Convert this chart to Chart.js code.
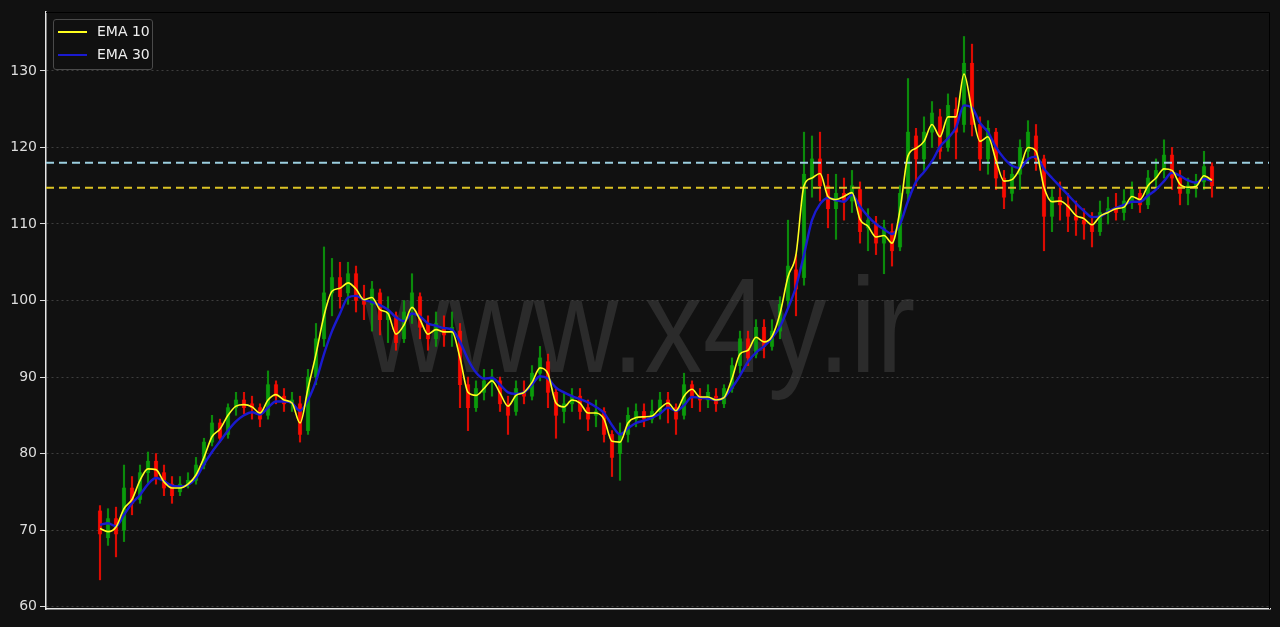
<!DOCTYPE html>
<html lang="en">
<head>
  <meta charset="UTF-8" />
  <title>EMA 10 / EMA 30</title>
  <script src="https://cdn.jsdelivr.net/npm/chart.js"></script>
  <style>
body {
  margin: 0;
  background: #111111;
}

.wrap {
  position: relative;
  width: 1280px;
  height: 627px;
  overflow: hidden;
}

.watermark {
  position: absolute;
  left: 0;
  top: 273px;
  width: 1280px;
  text-align: center;
  font-family: 'Liberation Sans', Arial, sans-serif;
  font-size: 117px;
  line-height: 117px;
  color: #2b2b2b;
  white-space: nowrap;
  transform: scaleY(1.15);
  transform-origin: 50% 99px;
}

canvas {
  position: absolute;
  left: 0;
  top: 0;
}

.leyenda {
  position: absolute;
  left: 53px;
  top: 19px;
  width: 100px;
  height: 51px;
  box-sizing: border-box;
  border: 1px solid #4a4a4a;
  border-radius: 3px;
  background: rgba(17,17,17,0.85);
  font-family: 'DejaVu Sans', sans-serif;
  font-size: 14px;
  color: #eeeeee;
}

.leyenda .linea {
  position: absolute;
  left: 4px;
  width: 29px;
  height: 2px;
}

.leyenda .texto {
  position: absolute;
  left: 43px;
  line-height: 16px;
}
  </style>
</head>
<body>
  <div class="wrap">
    <div class="watermark">www.x4y.ir</div>
    <canvas id="grafica" width="1280" height="627"></canvas>
    <div class="leyenda">
      <div class="linea" style="top:11px; background:#ffff1e;"></div>
      <div class="texto" style="top:3px;">EMA 10</div>
      <div class="linea" style="top:34px; background:#1a1ad0;"></div>
      <div class="texto" style="top:26px;">EMA 30</div>
    </div>
  </div>

  <script>
    // velas (una cada ~8 px)
    const opens = [
      72.5, 69.0, 71.5, 70.0, 75.5, 74.0, 77.5, 79.0, 77.5, 76.0,
      75.0, 76.0, 76.5, 78.5, 81.5, 84.0, 82.5, 86.0, 87.0, 86.5,
      86.0, 85.0, 89.0, 87.5, 86.5, 86.5, 83.0, 90.0, 95.0, 101.0,
      103.0, 101.0, 103.5, 100.0, 99.5, 101.0, 97.5, 98.0, 95.0, 99.0,
      100.5, 97.0, 95.0, 96.5, 96.0, 96.0, 89.0, 86.0, 88.0, 89.5,
      89.5, 86.5, 85.5, 88.0, 87.5, 90.5, 92.0, 88.0, 85.5, 86.5,
      87.5, 86.0, 85.0, 85.5, 82.5, 80.0, 82.5, 84.5, 85.5, 84.5,
      85.5, 87.0, 86.0, 85.0, 89.0, 87.5, 87.0, 87.5, 86.5, 88.5,
      91.5, 95.0, 93.0, 96.5, 94.0, 96.0, 100.0, 104.0, 103.0, 116.0,
      118.5, 115.0, 112.0, 114.0, 113.0, 114.5, 109.5, 110.0, 107.5, 109.0,
      107.0, 114.0, 121.5, 118.5, 122.0, 124.0, 120.0, 125.0, 123.0, 131.0,
      123.0, 118.5, 122.0, 116.0, 114.0, 116.5, 119.5, 121.5, 118.5, 111.0,
      113.5, 112.5, 111.0, 110.5, 110.0, 109.0, 111.5, 112.0, 111.5, 113.0,
      114.0, 112.5, 116.0, 117.0, 119.0, 116.0, 114.0, 115.0, 115.5, 117.5
    ];
    const closes = [
      69.5, 71.5, 69.5, 75.5, 73.5, 77.5, 79.0, 77.0, 75.5, 74.5,
      76.0, 76.5, 78.5, 81.5, 84.0, 82.0, 86.0, 87.0, 86.0, 86.0,
      84.5, 89.0, 87.5, 86.5, 87.0, 82.5, 90.0, 95.0, 101.0, 103.0,
      100.5, 103.5, 100.0, 99.5, 101.5, 97.5, 98.5, 94.5, 98.5, 101.0,
      96.5, 95.0, 97.0, 95.5, 96.5, 89.0, 86.0, 88.5, 89.5, 90.0,
      86.5, 85.0, 88.5, 87.5, 90.5, 92.5, 88.0, 85.0, 86.5, 87.5,
      85.5, 84.5, 85.5, 82.5, 79.5, 82.5, 85.0, 85.5, 84.5, 85.5,
      87.0, 86.0, 84.5, 89.0, 87.5, 87.0, 88.0, 86.5, 88.5, 91.5,
      95.0, 92.5, 96.5, 94.0, 96.0, 99.5, 104.5, 101.5, 116.5, 118.5,
      115.0, 112.0, 114.0, 113.0, 115.0, 109.0, 110.5, 107.5, 109.5, 106.5,
      114.0, 122.0, 118.5, 122.0, 124.5, 119.5, 125.5, 122.0, 131.0, 123.0,
      118.5, 122.5, 116.0, 113.5, 116.5, 120.0, 122.0, 118.5, 111.0, 113.5,
      112.5, 111.0, 110.5, 110.0, 109.0, 111.5, 112.0, 111.5, 113.0, 114.5,
      112.5, 116.0, 117.0, 119.0, 116.0, 114.0, 115.0, 115.5, 117.5, 115.0
    ];
    const highs = [
      73.2, 72.8, 73.0, 78.5, 77.0, 78.5, 80.2, 80.0, 78.5, 77.0,
      77.0, 77.5, 79.5, 82.0, 85.0, 84.5, 86.5, 88.0, 88.0, 87.5,
      86.5, 90.8, 89.5, 88.5, 88.0, 87.5, 91.0, 97.0, 107.0, 105.5,
      105.0, 105.0, 104.5, 102.0, 102.5, 101.5, 100.5, 98.5, 100.0, 103.5,
      101.0, 98.0, 98.5, 98.0, 98.5, 97.0, 90.0, 89.5, 91.0, 91.0,
      90.0, 87.5, 89.5, 89.5, 91.5, 94.0, 93.0, 88.5, 88.0, 88.5,
      88.5, 87.0, 87.0, 86.0, 83.0, 84.0, 86.0, 86.5, 86.5, 87.0,
      88.0, 88.0, 86.5, 90.5, 89.5, 88.5, 89.0, 88.5, 89.0, 92.5,
      96.0, 96.0, 97.5, 97.5, 97.5, 100.5, 110.5, 106.0, 122.0, 121.5,
      122.0, 116.5, 116.5, 116.0, 117.0, 115.5, 112.0, 111.0, 110.5, 110.0,
      115.0, 129.0, 122.5, 124.0, 126.0, 125.0, 127.0, 126.5, 134.5, 133.5,
      124.0, 123.5, 122.5, 117.0, 118.0, 121.0, 123.5, 123.0, 119.0, 114.5,
      115.5, 114.0, 113.0, 112.0, 111.5, 113.0, 113.5, 114.0, 114.5, 115.5,
      114.5, 117.0, 118.5, 121.0, 120.0, 117.0, 116.0, 116.5, 119.5, 118.0
    ];
    const lows = [
      63.5, 68.0, 66.5, 68.5, 72.0, 73.5, 76.0, 76.0, 74.5, 73.5,
      74.5, 75.5, 76.0, 78.0, 81.0, 81.5, 82.0, 85.0, 85.2, 84.5,
      83.5, 84.5, 86.5, 85.5, 85.5, 81.5, 82.5, 89.0, 94.0, 98.0,
      99.0, 99.5, 98.5, 97.5, 96.0, 95.5, 94.5, 93.5, 94.5, 97.0,
      95.0, 93.5, 94.0, 94.0, 94.0, 86.0, 83.0, 85.5, 87.0, 87.5,
      85.5, 82.5, 85.0, 86.5, 87.0, 89.5, 86.0, 82.0, 84.0, 85.5,
      84.5, 83.0, 83.5, 81.5, 77.0, 76.5, 81.5, 83.5, 83.5, 84.0,
      84.5, 84.0, 82.5, 84.5, 86.0, 85.5, 86.0, 85.5, 86.0, 88.0,
      90.5, 91.5, 92.5, 92.5, 93.5, 95.0, 99.0, 98.0, 102.0, 113.5,
      113.0, 109.5, 108.0, 110.5, 111.5, 107.5, 106.5, 106.0, 103.5, 104.5,
      106.5, 113.0, 115.0, 117.0, 120.0, 118.5, 119.5, 118.5, 122.0, 121.5,
      117.0, 116.5, 114.5, 112.0, 113.0, 114.5, 118.0, 117.0, 106.5, 109.0,
      110.5, 109.0, 108.5, 108.0, 107.0, 108.5, 110.0, 110.5, 110.5, 112.0,
      111.5, 112.0, 114.5, 116.0, 114.5, 112.5, 112.5, 113.5, 114.5, 113.5
    ];

    // medias moviles
    const ema10 = [
      70.2, 69.8, 70.4, 72.8, 74.0, 76.5, 78.0, 77.9, 76.3, 75.5,
      75.5, 76.0, 77.2, 79.5, 82.2, 83.2, 85.0, 86.2, 86.4, 86.1,
      85.3, 87.0, 87.7, 87.0, 86.6, 84.0, 88.5, 93.0, 98.0, 101.2,
      101.6, 102.3, 101.5, 100.1, 100.4, 98.8, 98.3, 95.6, 96.8, 99.1,
      97.5, 95.6, 96.2, 95.9, 95.9, 92.5, 88.0, 87.6, 88.5, 89.5,
      87.9, 86.2, 87.6, 88.0, 89.3, 91.2, 90.4, 86.6, 86.1, 87.0,
      86.6, 85.3, 85.3, 84.5, 81.6, 81.5, 84.0, 84.7, 84.8, 84.9,
      85.9, 86.6, 85.6, 87.5, 88.4, 87.4, 87.4, 87.0, 87.3, 89.8,
      93.0, 93.5, 95.2, 94.6, 95.3, 98.3, 103.1, 106.0, 115.0, 116.0,
      116.6, 113.6, 113.2, 113.6, 114.1, 110.6, 109.7, 108.3, 108.5, 107.5,
      111.8, 118.9, 119.9, 120.8, 123.0, 121.4, 124.0, 124.0, 129.6, 124.8,
      120.8, 121.4, 118.3, 115.6, 115.8, 117.3, 120.0, 119.5, 114.8, 112.9,
      113.0, 112.3, 111.1, 110.7, 109.9, 111.0, 111.5, 112.0, 112.2, 113.6,
      113.2, 115.0, 116.0, 117.2, 117.0, 115.2, 114.8, 114.9, 116.3, 115.7
    ];
    const ema30 = [
      70.7, 70.9, 70.5, 72.0, 73.5, 74.6, 76.0, 76.8, 76.4, 75.8,
      75.7, 75.9, 76.8, 78.6, 80.2, 81.6, 83.0, 84.2, 85.0, 85.4,
      85.1, 86.0, 86.8, 86.8, 86.6, 85.6, 87.0, 89.5, 93.0, 96.0,
      98.3, 100.4, 100.6, 100.1, 99.8, 99.4, 98.8, 97.8, 97.3, 98.3,
      97.9, 97.0, 96.7, 96.4, 96.2, 94.6, 92.3, 90.6, 89.8, 89.9,
      89.0, 88.0, 87.8, 88.0, 89.0, 90.1, 89.8, 88.6, 88.0, 87.5,
      87.1, 86.7, 86.1, 85.3, 83.7, 82.5, 83.3, 84.0, 84.3, 84.7,
      85.2, 86.0, 85.6, 86.3, 87.4, 87.3, 87.2, 87.0, 87.3, 88.6,
      90.2, 92.0, 93.2, 94.0, 95.1, 96.6, 99.0, 101.8, 106.0, 110.5,
      112.6, 113.4, 113.1, 112.9, 113.8, 112.3, 111.0, 110.0, 109.3, 108.7,
      110.0, 113.0, 115.5, 116.8, 118.2, 120.1, 121.2, 122.6, 125.5, 125.2,
      123.2, 122.0, 120.0, 118.6, 117.6, 117.3, 118.5, 118.8, 117.2, 116.0,
      114.9, 113.8, 112.7, 111.7, 110.9, 111.0, 111.6, 112.1, 112.5, 112.9,
      112.9, 113.7, 114.5, 115.6, 116.7, 116.3, 115.7, 115.4, 115.9, 115.6
    ];

    // niveles horizontales
    const nivelAlto = 118.0;
    const nivelBajo = 114.75;
    const yTicks = [60, 70, 80, 90, 100, 110, 120, 130];

    const xMin = -6.75, xMax = 146.25;
    const UP = 'rgba(10,160,10,0.85)';
    const DOWN = 'rgba(255,10,0,0.85)';
    const idx = closes.map((_, i) => i);
    const colorVela = c => closes[c.dataIndex] >= opens[c.dataIndex] ? UP : DOWN;

    const bordes = {
      id: 'bordes',
      afterDraw(chart) {
        const { ctx, chartArea: a } = chart;
        ctx.save();
        ctx.strokeStyle = '#000000';
        ctx.lineWidth = 1;
        ctx.beginPath();
        ctx.moveTo(a.left, a.top + 0.5);
        ctx.lineTo(a.right - 0.5, a.top + 0.5);
        ctx.lineTo(a.right - 0.5, a.bottom);
        ctx.stroke();
        ctx.restore();
      }
    };

    new Chart(document.getElementById('grafica'), {
      type: 'bar',
      data: {
        datasets: [
          {
            type: 'bar',
            data: idx.map(i => ({ x: i, y: [lows[i], highs[i]] })),
            backgroundColor: colorVela,
            barThickness: 1.5,
            grouped: false,
            order: 6
          },
          {
            type: 'bar',
            data: idx.map(i => ({ x: i, y: [opens[i], closes[i]] })),
            backgroundColor: colorVela,
            barThickness: 3.5,
            grouped: false,
            order: 5
          },
          {
            type: 'line',
            data: [{ x: xMin, y: nivelAlto }, { x: xMax, y: nivelAlto }],
            borderColor: '#9ccfe0',
            borderWidth: 2,
            borderDash: [8, 5],
            pointRadius: 0,
            order: 3
          },
          {
            type: 'line',
            data: [{ x: xMin, y: nivelBajo }, { x: xMax, y: nivelBajo }],
            borderColor: '#dcc426',
            borderWidth: 2,
            borderDash: [8, 5],
            pointRadius: 0,
            order: 3
          },
          {
            type: 'line',
            label: 'EMA 30',
            data: idx.map(i => ({ x: i, y: ema30[i] })),
            borderColor: '#1a1ad0',
            borderWidth: 2.4,
            pointRadius: 0,
            cubicInterpolationMode: 'monotone',
            order: 1
          },
          {
            type: 'line',
            label: 'EMA 10',
            data: idx.map(i => ({ x: i, y: ema10[i] })),
            borderColor: '#ffff1e',
            borderWidth: 1.6,
            pointRadius: 0,
            cubicInterpolationMode: 'monotone',
            order: 0
          }
        ]
      },
      options: {
        responsive: false,
        animation: false,
        layout: { padding: { left: 0, right: 10, top: 12, bottom: 18 } },
        plugins: { legend: { display: false }, tooltip: { enabled: false } },
        scales: {
          x: {
            type: 'linear',
            min: xMin,
            max: xMax,
            offset: false,
            ticks: { display: false },
            grid: { display: false, drawTicks: false },
            border: { color: '#e6e6e6', width: 1.5 },
            afterFit: s => { s.height = 0; }
          },
          y: {
            min: 59.69,
            max: 137.7,
            afterBuildTicks: s => { s.ticks = yTicks.map(v => ({ value: v })); },
            ticks: {
              color: '#dddddd',
              padding: 3,
              font: { family: 'DejaVu Sans', size: 14 }
            },
            grid: {
              color: '#4a4a4a',
              lineWidth: 0.8,
              tickColor: '#dddddd',
              tickLength: 6,
              tickWidth: 1
            },
            border: { color: '#e6e6e6', width: 1.5, dash: [2, 3] },
            afterFit: s => { s.width = 46; }
          }
        }
      },
      plugins: [bordes]
    });
  </script>
</body>
</html>
